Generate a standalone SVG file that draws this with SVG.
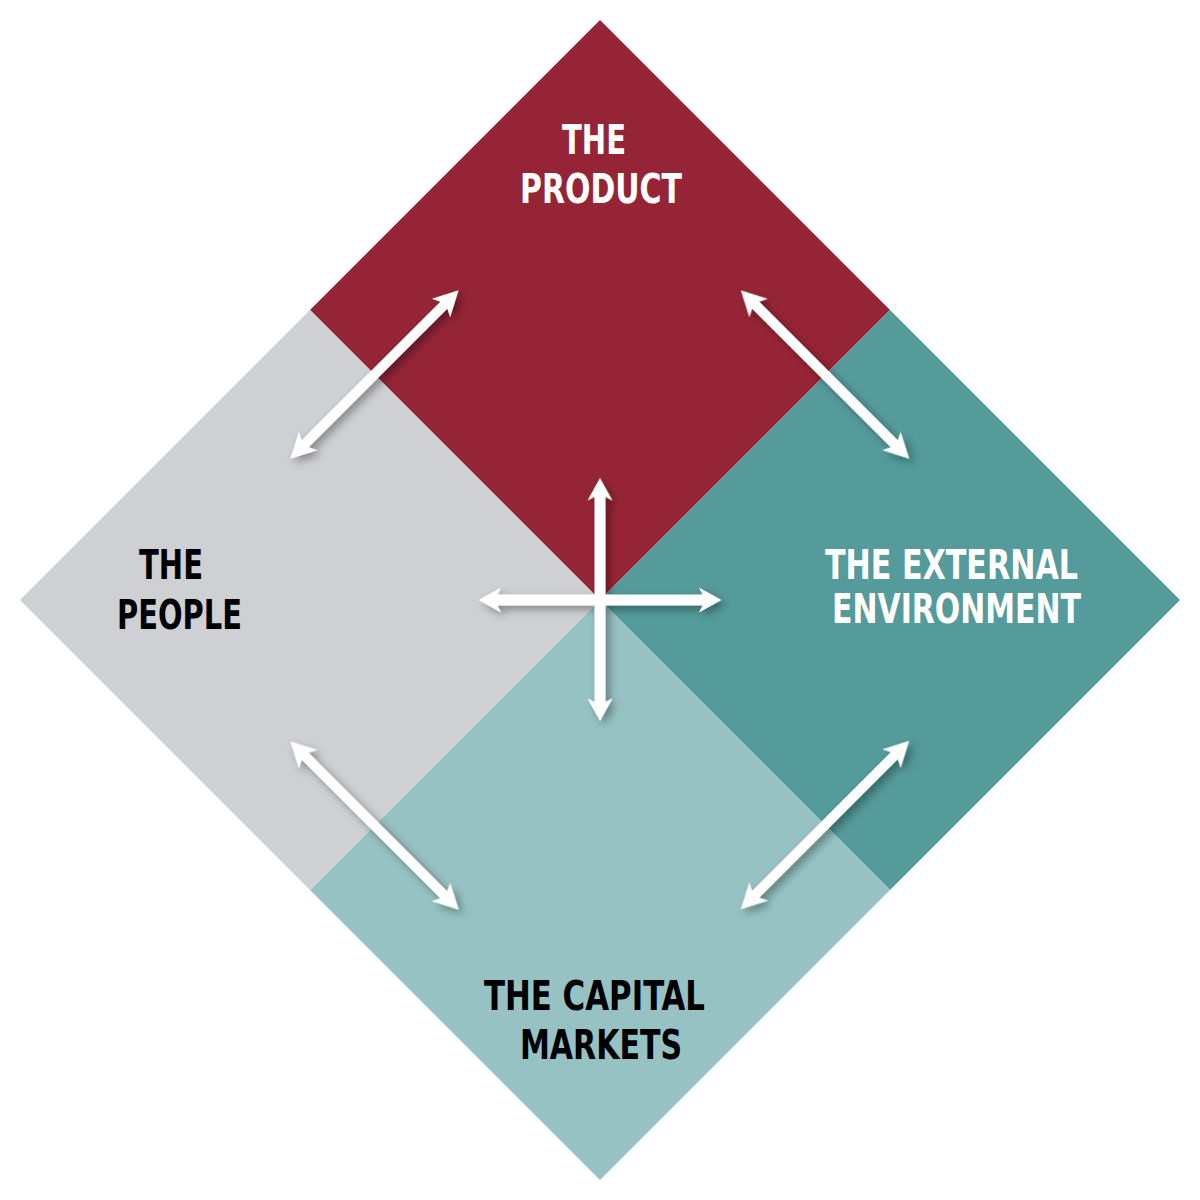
<svg xmlns="http://www.w3.org/2000/svg" width="1200" height="1200" viewBox="0 0 1200 1200">
  <style>
    .lbl { font-family: "Liberation Sans Narrow", "DejaVu Sans Condensed", "Liberation Sans", sans-serif; font-weight: bold; font-size: 40px; }
    .w { fill: #ffffff; }
    .k { fill: #000000; }
    .arr { fill: #ffffff; }
  </style>
  <defs>
    <filter id="sh" x="-20%" y="-20%" width="140%" height="140%">
      <feDropShadow dx="4" dy="4" stdDeviation="4" flood-color="#000000" flood-opacity="0.35"/>
    </filter>
    <path id="diag" d="M119,0 L94,-13 L98,-5 L-98,-5 L-94,-13 L-119,0 L-94,13 L-98,5 L98,5 L94,13 Z"/>
    <path id="cross" d="M121.5,0 L99,-12.5 L102.5,-5.5 L-102.5,-5.5 L-99,-12.5 L-121.5,0 L-99,12.5 L-102.5,5.5 L102.5,5.5 L99,12.5 Z"/>
  </defs>
  <rect width="1200" height="1200" fill="#ffffff"/>

  <g id="product">
    <polygon points="600,20 890,310 600,600 310,310" fill="#952536"/>
    <text class="lbl w" x="562" y="154" textLength="64" lengthAdjust="spacingAndGlyphs" font-size="42">THE</text>
    <text class="lbl w" x="520" y="203" textLength="162" lengthAdjust="spacingAndGlyphs" font-size="42">PRODUCT</text>
  </g>
  <g id="external">
    <polygon points="890,310 1180,600 890,890 600,600" fill="#559b9b"/>
    <text class="lbl w" x="825" y="579" textLength="253" lengthAdjust="spacingAndGlyphs">THE EXTERNAL</text>
    <text class="lbl w" x="832" y="623" textLength="249" lengthAdjust="spacingAndGlyphs">ENVIRONMENT</text>
  </g>
  <g id="capital">
    <polygon points="600,600 890,890 600,1180 310,890" fill="#97c2c3"/>
    <text class="lbl k" x="484" y="1010" textLength="221" lengthAdjust="spacingAndGlyphs">THE CAPITAL</text>
    <text class="lbl k" x="520" y="1059" textLength="162" lengthAdjust="spacingAndGlyphs">MARKETS</text>
  </g>
  <g id="people">
    <polygon points="310,310 600,600 310,890 20,600" fill="#cfd0d4"/>
    <text class="lbl k" x="139" y="579" textLength="64" lengthAdjust="spacingAndGlyphs">THE</text>
    <text class="lbl k" x="117" y="629" textLength="125" lengthAdjust="spacingAndGlyphs">PEOPLE</text>
  </g>

  <g id="connectors" class="arr" filter="url(#sh)">
    <use href="#diag" transform="translate(374.5,374.5) rotate(-45)"/>
    <use href="#diag" transform="translate(825,374.5) rotate(45)"/>
    <use href="#diag" transform="translate(374.5,825.5) rotate(45)"/>
    <use href="#diag" transform="translate(825,825) rotate(-45)"/>
    <use href="#cross" transform="translate(600,599.5) rotate(90)"/>
    <use href="#cross" transform="translate(600,600)"/>
  </g>
</svg>
